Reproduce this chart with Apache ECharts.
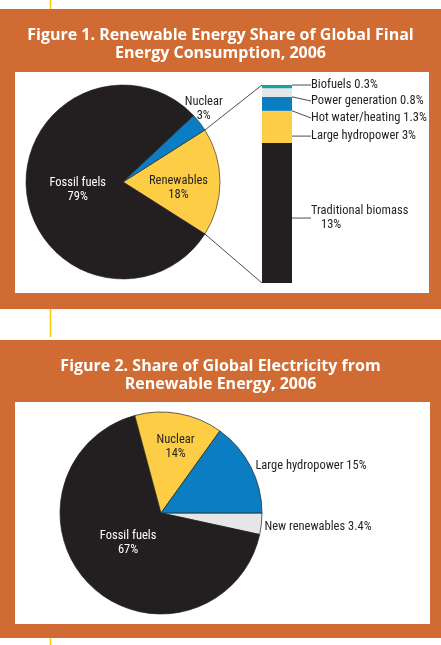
<!DOCTYPE html>
<html><head><meta charset="utf-8">
<script src="https://cdn.jsdelivr.net/npm/echarts@6/dist/echarts.min.js"></script>
<style>html,body{margin:0;padding:0;background:#fff}#c{width:441px;height:645px}</style>
</head><body><div id="c"></div>
<script>
// ---------- DATA ----------
const fig1Title = 'Figure 1. Renewable Energy Share of Global Final\nEnergy Consumption, 2006';
const fig1Categories = ['Renewables', 'Fossil fuels', 'Nuclear'];
const fig1Values = [18, 79, 3];

// breakdown of renewables (bottom to top of the stacked bar)
const breakdownCategories = ['Traditional biomass', 'Large hydropower', 'Hot water/heating', 'Power generation', 'Biofuels'];
const breakdownValues = [13, 3, 1.3, 0.8, 0.3];

const fig2Title = 'Figure 2. Share of Global Electricity from\nRenewable Energy, 2006';
const fig2Categories = ['New renewables', 'Fossil fuels', 'Nuclear', 'Large hydropower'];
const fig2Values = [3.4, 67, 14, 15];

// ---------- STYLE ----------
const INK = '#231f20', ORANGE = '#d06c33', GOLD = '#f7c600';
const YELLOW = '#fdce45', BLUE = '#0b7dc3', GRAY = '#e6e6e6', TEAL = '#14a4a8';
const LABEL_FONT = "'Liberation Sans Narrow','Roboto Condensed','DejaVu Sans Condensed',sans-serif";
const TITLE_FONT = "'Open Sans','Noto Sans',sans-serif";
const LFS = 12.5;
const fig1Colors = [YELLOW, INK, BLUE];
const breakdownColors = [INK, YELLOW, BLUE, GRAY, TEAL];
const fig2Colors = [GRAY, INK, YELLOW, BLUE];

const PIE1 = {center: [123, 182], r: 97, start: 32.4};
const PIE2 = {center: [161, 513], r: 101, start: 0};
const GRID1 = {left: 262, top: 85, width: 30, height: 198};

const pie1Shift = {'Renewables': [4, 6], 'Fossil fuels': [6, 3], 'Nuclear': [40, -42]};
const pie2Shift = {'Nuclear': [5, -13], 'Fossil fuels': [4, -9], 'Large hydropower': [-4, 1], 'New renewables': [-6, 3]};
const pie2Outside = ['New renewables', 'Large hydropower'];

const chart = echarts.init(document.getElementById('c'), null, {renderer: 'canvas'});

const graphics = [
  {type: 'rect', z: -10, shape: {x: 0, y: 9, width: 441, height: 300}, style: {fill: ORANGE}},
  {type: 'rect', z: -9, shape: {x: 15, y: 72, width: 414, height: 221}, style: {fill: '#fff'}},
  {type: 'rect', z: -10, shape: {x: 0, y: 340, width: 441, height: 298}, style: {fill: ORANGE}},
  {type: 'rect', z: -9, shape: {x: 15, y: 402, width: 415, height: 222}, style: {fill: '#fff'}},
  {type: 'line', z: -8, shape: {x1: 50.5, y1: 0, x2: 50.5, y2: 9}, style: {stroke: GOLD, lineWidth: 1.5}},
  {type: 'line', z: -8, shape: {x1: 50.5, y1: 309, x2: 50.5, y2: 337}, style: {stroke: GOLD, lineWidth: 1.5}},
  {type: 'line', z: -8, shape: {x1: 50.5, y1: 638, x2: 50.5, y2: 645}, style: {stroke: GOLD, lineWidth: 1.5}}
];

const breakdownTotal = breakdownValues.reduce((a, b) => a + b, 0);

const barSeries = breakdownCategories.map((name, i) => ({
  type: 'bar', name: name, stack: 'r', barWidth: GRID1.width,
  xAxisIndex: 0, yAxisIndex: 0,
  data: [breakdownValues[i]],
  itemStyle: {color: breakdownColors[i]},
  label: {
    show: true, position: 'right', color: INK, fontFamily: LABEL_FONT, fontSize: LFS,
    formatter: i === 0 ? '{a|' + name + '}\n{b|' + breakdownValues[i] + '%}' : name + ' ' + breakdownValues[i] + '%',
    rich: {a: {fontFamily: LABEL_FONT, fontSize: LFS, color: INK, lineHeight: 14},
           b: {fontFamily: LABEL_FONT, fontSize: LFS, color: INK, lineHeight: 14, padding: [0, 0, 0, 10]}}
  },
  labelLine: {show: true, lineStyle: {color: INK, width: 0.8}},
  labelLayout: function (p) {
    const r = p.rect;
    const x0 = r.x + r.width, x1 = x0 + 16, tx = x0 + 19;
    const top = GRID1.top;
    let ay, ly, ty;
    if (i === 0) { ay = r.y + r.height / 2 - 2; ly = ay; ty = ay + 7; }
    else if (i === 1) { ay = r.y + r.height - 6; ly = ay; ty = ay - 1; }
    else if (i === 2) { ay = r.y + 1.5; ly = top + 34; ty = top + 33; }
    else if (i === 3) { ay = r.y + r.height / 2; ly = top + 18; ty = top + 16; }
    else { ay = r.y + r.height / 2; ly = top; ty = top; }
    return {x: tx, y: ty, align: 'left', verticalAlign: 'middle',
            labelLinePoints: [[x0, ay], [x1, ly], [x1 + 0.01, ly]]};
  }
}));

// connector lines: from the edges of the renewables slice to the breakdown bar corners
const fig1Total = fig1Values.reduce((a, b) => a + b, 0);
const renIdx = fig1Categories.indexOf('Renewables');
let acc = 0;
for (let k = 0; k < renIdx; k++) acc += fig1Values[k];
const a1 = (PIE1.start - 360 * acc / fig1Total) * Math.PI / 180;
const a2 = (PIE1.start - 360 * (acc + fig1Values[renIdx]) / fig1Total) * Math.PI / 180;
const p1 = [PIE1.center[0] + PIE1.r * Math.cos(a1), PIE1.center[1] - PIE1.r * Math.sin(a1)];
const p2 = [PIE1.center[0] + PIE1.r * Math.cos(a2), PIE1.center[1] - PIE1.r * Math.sin(a2)];

const connector = {
  type: 'custom', coordinateSystem: 'cartesian2d', xAxisIndex: 0, yAxisIndex: 0,
  silent: true, z: 5,
  data: [[0, breakdownTotal]],
  renderItem: function (params, api) {
    const top = api.coord([api.value(0), api.value(1)]);
    const bot = api.coord([api.value(0), 0]);
    const w = api.size([1, 0])[0];
    const xl = top[0] - w / 2;
    return {type: 'group', children: [
      {type: 'line', shape: {x1: p1[0], y1: p1[1], x2: xl, y2: top[1]}, style: {stroke: INK, lineWidth: 0.8}},
      {type: 'line', shape: {x1: p2[0], y1: p2[1], x2: xl, y2: bot[1]}, style: {stroke: INK, lineWidth: 0.8}}
    ]};
  }
};

const pie1 = {
  type: 'pie', center: PIE1.center, radius: PIE1.r, startAngle: PIE1.start, clockwise: true,
  avoidLabelOverlap: false,
  itemStyle: {borderColor: INK, borderWidth: 0.6},
  label: {show: true, position: 'inside', formatter: '{b}\n{c}%', fontFamily: LABEL_FONT, fontSize: LFS, lineHeight: 14, color: INK},
  labelLine: {show: false},
  data: fig1Categories.map((n, i) => ({
    name: n, value: fig1Values[i], itemStyle: {color: fig1Colors[i]},
    label: {color: fig1Colors[i] === INK ? '#fff' : INK}
  })),
  labelLayout: function (p) {
    const s = pie1Shift[fig1Categories[p.dataIndex]] || [0, 0];
    return {dx: s[0], dy: s[1]};
  }
};

const pie2 = {
  type: 'pie', center: PIE2.center, radius: PIE2.r, startAngle: PIE2.start, clockwise: true,
  avoidLabelOverlap: false,
  itemStyle: {borderColor: INK, borderWidth: 0.7},
  label: {show: true, fontFamily: LABEL_FONT, fontSize: LFS, lineHeight: 14, color: INK},
  labelLine: {show: false, length: 4, length2: 0},
  data: fig2Categories.map((n, i) => {
    const out = pie2Outside.indexOf(n) >= 0;
    return {
      name: n, value: fig2Values[i], itemStyle: {color: fig2Colors[i]},
      label: out ? {position: 'outside', formatter: '{b} {c}%', color: INK}
                 : {position: 'inside', formatter: '{b}\n{c}%', color: fig2Colors[i] === INK ? '#fff' : INK}
    };
  }),
  labelLayout: function (p) {
    const s = pie2Shift[fig2Categories[p.dataIndex]] || [0, 0];
    return {dx: s[0], dy: s[1]};
  }
};

const option = {
  animation: false,
  backgroundColor: '#fff',
  title: [
    {text: fig1Title, left: 'center', top: 21,
     textStyle: {color: '#fff', fontFamily: TITLE_FONT, fontWeight: 'bold', fontSize: 16, lineHeight: 18}},
    {text: fig2Title, left: 'center', top: 352,
     textStyle: {color: '#fff', fontFamily: TITLE_FONT, fontWeight: 'bold', fontSize: 16, lineHeight: 18}}
  ],
  grid: [{left: GRID1.left, top: GRID1.top, width: GRID1.width, height: GRID1.height, containLabel: false}],
  xAxis: [{type: 'category', gridIndex: 0, data: ['Renewables'], show: false}],
  yAxis: [{type: 'value', gridIndex: 0, min: 0, max: breakdownTotal, show: false}],
  graphic: graphics,
  series: [pie1].concat(barSeries, [connector, pie2])
};
chart.setOption(option);
</script>
</body></html>
